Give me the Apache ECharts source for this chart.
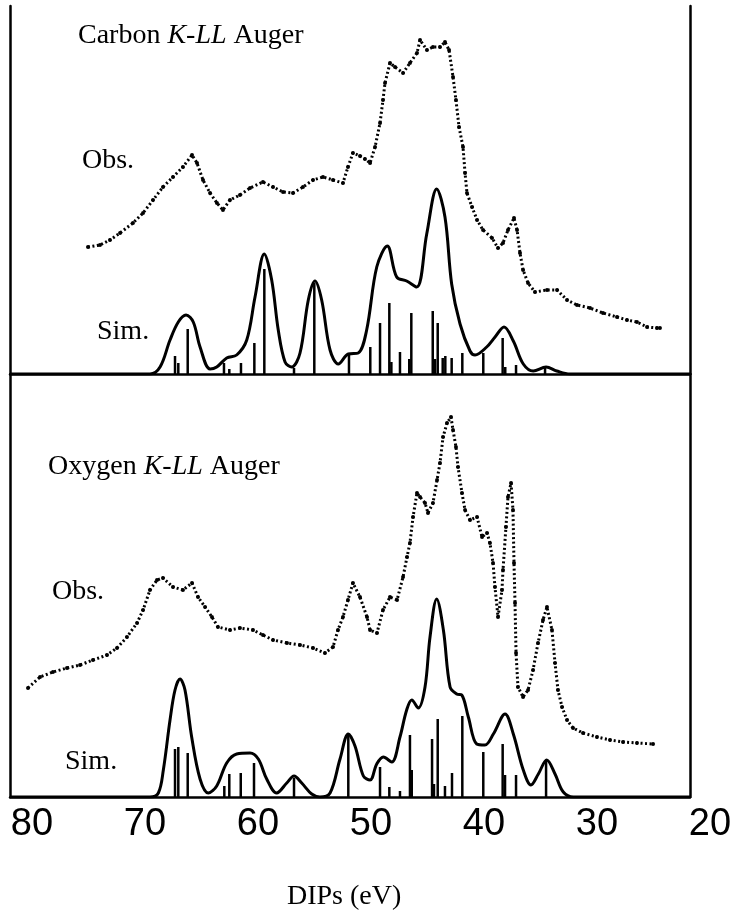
<!DOCTYPE html>
<html>
<head>
<meta charset="utf-8">
<script src="https://cdn.jsdelivr.net/npm/echarts@6/dist/echarts.min.js"></script>
<style>
  html, body { margin: 0; padding: 0; background: #fff; }
  #chart { width: 739px; height: 922px; }
</style>
</head>
<body>
<div id="chart"></div>
<script>
// x: DIP in eV, y: intensity (arb. units)
const tickLabels = [80, 70, 60, 50, 40, 30, 20]

const carbonObs = [
  [73.12, 127], [72.06, 129], [71.18, 134], [70.29, 141], [69.15, 151], [68.26, 161],
  [67.38, 174], [66.50, 187], [65.62, 197], [64.74, 207], [63.94, 219], [63.50, 211],
  [62.97, 194], [62.35, 181], [61.74, 171], [61.21, 164], [60.59, 174], [59.71, 179],
  [58.82, 186], [57.68, 192], [56.79, 187], [55.91, 182], [55.03, 181], [54.15, 187],
  [53.26, 194], [52.38, 197], [51.50, 194], [50.62, 191], [50.18, 207], [49.74, 221],
  [49.12, 218], [48.68, 215], [48.23, 211], [47.79, 227], [47.35, 251], [47.09, 274],
  [46.91, 291], [46.47, 311], [46.03, 307], [45.32, 301], [44.71, 311], [44.09, 321],
  [43.82, 334], [43.21, 324], [42.68, 327], [42.06, 327], [41.62, 332], [41.26, 324],
  [40.91, 297], [40.65, 274], [40.38, 247], [40.03, 227], [39.85, 201], [39.68, 181],
  [39.23, 167], [38.79, 154], [38.26, 144], [37.47, 136], [36.94, 126], [36.50, 131],
  [36.06, 144], [35.53, 156], [35.26, 144], [35.00, 121], [34.73, 104], [34.29, 91],
  [33.68, 82], [32.62, 84], [31.73, 84], [30.85, 74], [29.97, 69], [28.82, 66],
  [27.68, 61], [26.44, 57], [25.56, 54], [24.68, 52], [23.79, 47], [22.91, 46], [22.65, 46]
]

const carbonSim = [
  [80, 0], [67.65, 0], [66.76, 7], [65.88, 34], [65.15, 52], [64.47, 59], [63.83, 52],
  [63.23, 27], [62.35, 5], [61.76, 7], [60.88, 16], [60.00, 19], [59.11, 34], [58.38, 77],
  [57.56, 120], [56.91, 94], [56.33, 44], [55.73, 12], [55.14, 7], [54.41, 21], [53.68, 74],
  [53.09, 93], [52.50, 74], [51.76, 24], [51.03, 10], [50.15, 20], [49.27, 21], [48.53, 44],
  [47.64, 107], [46.71, 128], [45.88, 97], [45.00, 93], [44.11, 87], [43.23, 140], [42.35, 185],
  [41.62, 157], [41.03, 90], [40.29, 50], [39.41, 23], [38.97, 19], [37.94, 27], [37.20, 37],
  [36.41, 47], [35.59, 33], [34.71, 10], [33.83, 3], [32.70, 7], [31.76, 3], [30.59, 0], [20, 0]
]

const carbonSticks = [
  [65.44, 18], [65.15, 11], [64.32, 45], [61.12, 11], [60.65, 5], [59.62, 11], [58.44, 31],
  [57.56, 105], [54.94, 6], [53.15, 91], [50.09, 21], [48.21, 27], [47.35, 51], [46.53, 71],
  [46.35, 12], [45.59, 22], [44.77, 15], [44.59, 61], [42.70, 63], [42.50, 15], [42.26, 51],
  [41.82, 16], [41.59, 18], [41.03, 16], [40.09, 21], [38.24, 21], [36.53, 36], [36.30, 7],
  [35.35, 9], [32.79, 6]
]

const oxygenObs = [
  [78.41, 109], [77.35, 120], [76.21, 125], [74.97, 129], [73.82, 132], [72.68, 137],
  [71.44, 142], [70.56, 149], [69.68, 160], [68.79, 174], [68.26, 187], [67.65, 207],
  [67.03, 217], [66.50, 219], [65.62, 210], [64.74, 207], [63.94, 214], [63.41, 200],
  [62.79, 190], [62.18, 180], [61.65, 170], [60.59, 167], [59.71, 169], [58.56, 167],
  [57.68, 162], [56.79, 157], [55.56, 154], [54.41, 152], [53.26, 149], [52.21, 144],
  [51.50, 150], [51.06, 167], [50.62, 180], [50.18, 197], [49.74, 214], [49.12, 200],
  [48.50, 180], [48.23, 167], [47.62, 164], [47.09, 187], [46.47, 200], [45.85, 197],
  [45.32, 220], [44.97, 240], [44.71, 254], [44.44, 280], [44.09, 304], [43.82, 300],
  [43.38, 294], [43.12, 284], [42.68, 294], [42.32, 317], [42.06, 334], [41.79, 360],
  [41.44, 374], [41.09, 380], [40.91, 367], [40.65, 350], [40.47, 330], [40.12, 304],
  [39.85, 287], [39.41, 277], [38.79, 280], [38.35, 260], [37.91, 264], [37.65, 254],
  [37.38, 234], [37.21, 210], [36.94, 180], [36.59, 207], [36.50, 227], [36.24, 270],
  [36.06, 300], [35.79, 314], [35.62, 287], [35.53, 234], [35.44, 194], [35.35, 144],
  [35.18, 110], [34.73, 100], [34.29, 107], [33.85, 127], [33.41, 154], [32.97, 177],
  [32.62, 190], [32.18, 167], [31.91, 134], [31.65, 107], [31.29, 90], [30.85, 77],
  [30.32, 69], [29.44, 64], [28.21, 60], [27.06, 57], [25.91, 55], [24.68, 54], [23.26, 53]
]

const oxygenSim = [
  [80, 0], [67.65, 0], [66.91, 4], [66.47, 27], [65.88, 77], [65.44, 107], [65.00, 118],
  [64.56, 107], [63.97, 60], [63.23, 18], [62.50, 4], [61.76, 11], [60.88, 34], [60.00, 43],
  [58.82, 44], [58.09, 38], [57.35, 18], [56.47, 4], [55.58, 14], [54.94, 21], [54.26, 14],
  [53.38, 3], [52.65, 0], [51.76, 4], [50.88, 38], [50.15, 63], [49.56, 51], [48.82, 21],
  [48.23, 17], [47.64, 33], [47.06, 40], [46.32, 35], [45.59, 60], [45.00, 87], [44.55, 97],
  [43.97, 89], [43.38, 110], [42.94, 160], [42.35, 198], [41.76, 167], [41.17, 110],
  [40.59, 103], [40.14, 102], [39.56, 80], [38.82, 53], [38.09, 52], [37.35, 63], [36.32, 83],
  [35.59, 63], [34.71, 27], [34.03, 12], [33.38, 23], [32.64, 37], [31.91, 23], [31.18, 5],
  [30.29, 0], [20, 0]
]

const oxygenSticks = [
  [65.44, 48], [65.15, 50], [64.32, 44], [61.09, 11], [60.65, 23], [59.64, 24], [58.47, 34],
  [54.94, 19], [50.15, 63], [47.35, 30], [46.53, 10], [45.59, 6], [44.71, 62], [44.55, 27],
  [42.76, 58], [42.59, 13], [42.26, 78], [41.62, 11], [41.00, 24], [40.09, 81], [38.24, 45],
  [36.53, 53], [36.32, 22], [35.35, 22], [32.70, 37]
]

const serif = 'Liberation Serif'
const frame = { show: true, onZero: false, lineStyle: { color: '#000', width: 2.5 } }

function dataXAxis(gridIndex) {
  return {
    type: 'value', gridIndex, min: 20, max: 80, inverse: true,
    axisLine: frame, axisTick: { show: false }, axisLabel: { show: false }, splitLine: { show: false }
  }
}

function sideYAxis(gridIndex, max, position) {
  return {
    type: 'value', gridIndex, min: 0, max, position,
    axisLine: frame, axisTick: { show: false }, axisLabel: { show: false }, splitLine: { show: false }
  }
}

function label(text, left, top) {
  return {
    text, left, top,
    textStyle: {
      fontFamily: serif, fontSize: 28, fontWeight: 'normal', color: '#000',
      rich: {
        n: { fontFamily: serif, fontSize: 28, color: '#000' },
        i: { fontFamily: serif, fontSize: 28, color: '#000', fontStyle: 'italic' }
      }
    }
  }
}

function obsSeries(data, xAxisIndex, yAxisIndex) {
  return {
    type: 'line', xAxisIndex, yAxisIndex, data,
    symbol: 'circle', symbolSize: 4, showAllSymbol: true,
    itemStyle: { color: '#000' },
    lineStyle: { color: '#000', width: 3, type: [2, 2.5] }
  }
}

function simSeries(data, xAxisIndex, yAxisIndex) {
  return {
    type: 'line', xAxisIndex, yAxisIndex, data,
    smooth: 0.35, showSymbol: false,
    lineStyle: { color: '#000', width: 3 }
  }
}

function stickSeries(data, xAxisIndex, yAxisIndex) {
  return {
    type: 'custom', xAxisIndex, yAxisIndex, data,
    encode: { x: 0, y: 1 },
    renderItem: (params, api) => {
      const base = api.coord([api.value(0), 0])
      const tip = api.coord([api.value(0), api.value(1)])
      return {
        type: 'line',
        shape: { x1: base[0], y1: base[1], x2: tip[0], y2: tip[1] },
        style: { stroke: '#000', lineWidth: 2.5 }
      }
    }
  }
}

const chart = echarts.init(document.getElementById('chart'))

chart.setOption({
  animation: false,
  backgroundColor: '#fff',
  title: [
    label('Carbon {i|K-LL} Auger', 73, 17),
    label('Obs.', 77, 142),
    label('Sim.', 92, 313),
    label('Oxygen {i|K-LL} Auger', 43, 448),
    label('Obs.', 47, 573),
    label('Sim.', 60, 743),
    label('DIPs (eV)', 282, 878)
  ],
  grid: [
    { left: 10, right: 49, top: 6, height: 368 },
    { left: 10, right: 49, top: 374, height: 423 },
    { left: 32, right: 29, top: 796, height: 1 }
  ],
  xAxis: [
    dataXAxis(0),
    dataXAxis(1),
    {
      type: 'value', gridIndex: 2, min: 20, max: 80, interval: 10, inverse: true,
      axisLine: { show: false }, axisTick: { show: false }, splitLine: { show: false },
      axisLabel: {
        margin: 9, fontFamily: 'Liberation Sans', fontSize: 38, color: '#000',
        formatter: v => (tickLabels.includes(v) ? String(v) : '')
      }
    }
  ],
  yAxis: [
    sideYAxis(0, 368, 'left'),
    sideYAxis(0, 368, 'right'),
    sideYAxis(1, 423, 'left'),
    sideYAxis(1, 423, 'right'),
    { type: 'value', gridIndex: 2, show: false }
  ],
  series: [
    obsSeries(carbonObs, 0, 0),
    simSeries(carbonSim, 0, 0),
    stickSeries(carbonSticks, 0, 0),
    obsSeries(oxygenObs, 1, 2),
    simSeries(oxygenSim, 1, 2),
    stickSeries(oxygenSticks, 1, 2)
  ]
})
</script>
</body>
</html>
